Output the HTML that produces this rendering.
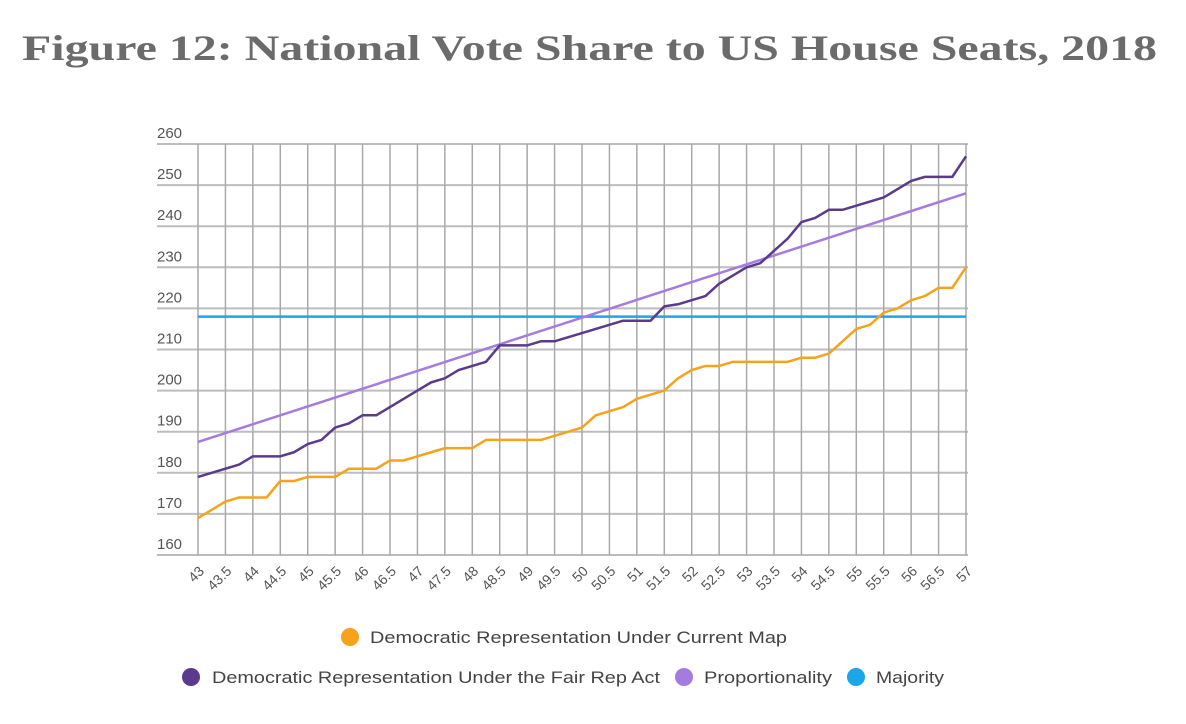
<!DOCTYPE html>
<html><head><meta charset="utf-8"><style>
body{margin:0;background:#fff;width:1186px;height:724px;overflow:hidden}
svg{display:block}
</style></head><body>
<svg width="1186" height="724">
<text x="22" y="60" textLength="1135" lengthAdjust="spacingAndGlyphs" font-family="Liberation Serif, serif" font-weight="bold" font-size="36" fill="#6b6b6b">Figure 12: National Vote Share to US House Seats, 2018</text>
<g id="grid"></g>
<g id="marks"></g>
<g font-family="Liberation Sans, sans-serif" font-size="17" fill="#444">
<g><circle cx="350" cy="637" r="9" fill="#f7a21b"/><text x="370" y="643" textLength="417" lengthAdjust="spacingAndGlyphs">Democratic Representation Under Current Map</text></g>
<g><circle cx="191" cy="677" r="9" fill="#5b3a8e"/><text x="212" y="683" textLength="448" lengthAdjust="spacingAndGlyphs">Democratic Representation Under the Fair Rep Act</text></g>
<g><circle cx="684" cy="677" r="9" fill="#a57be0"/><text x="704" y="683" textLength="128" lengthAdjust="spacingAndGlyphs">Proportionality</text></g>
<g><circle cx="856" cy="677" r="9" fill="#1aa6e8"/><text x="876" y="683" textLength="68" lengthAdjust="spacingAndGlyphs">Majority</text></g>
</g>
</svg>
<script>
const xs=[43,43.25,43.5,43.75,44,44.25,44.5,44.75,45,45.25,45.5,45.75,46,46.25,46.5,46.75,47,47.25,47.5,47.75,48,48.25,48.5,48.75,49,49.25,49.5,49.75,50,50.25,50.5,50.75,51,51.25,51.5,51.75,52,52.25,52.5,52.75,53,53.25,53.5,53.75,54,54.25,54.5,54.75,55,55.25,55.5,55.75,56,56.25,56.5,56.75,57];
const fairRep=[179,180,181,182,184,184,184,185,187,188,191,192,194,194,196,198,200,202,203,205,206,207,211,211,211,212,212,213,214,215,216,217,217,217,220.5,221,222,223,226,228,230,231,234,237,241,242,244,244,245,246,247,249,251,252,252,252,257];
const currentMap=[169,171,173,174,174,174,178,178,179,179,179,181,181,181,183,183,184,185,186,186,186,188,188,188,188,188,189,190,191,194,195,196,198,199,200,203,205,206,206,207,207,207,207,207,208,208,209,212,215,216,219,220,222,223,225,225,230];
const propStart=[43,187.5], propEnd=[57,248];
const majority=218;
const yTicks=[160,170,180,190,200,210,220,230,240,250,260];
const xTicks=[43,43.5,44,44.5,45,45.5,46,46.5,47,47.5,48,48.5,49,49.5,50,50.5,51,51.5,52,52.5,53,53.5,54,54.5,55,55.5,56,56.5,57];
const X=v=>198+(v-43)*(768/14), Y=v=>555-(v-160)*4.11;
const NS="http://www.w3.org/2000/svg";
const grid=document.getElementById('grid'), marks=document.getElementById('marks');
function mk(tag,attrs,parent){const e=document.createElementNS(NS,tag);for(const k in attrs)e.setAttribute(k,attrs[k]);parent.appendChild(e);return e;}
yTicks.forEach(t=>{
 const l=mk('line',{x1:157,x2:968,y1:Y(t),y2:Y(t),stroke:'#bdbdbd','stroke-width':2},grid);
 
 
 const tx=mk('text',{x:157,y:Y(t)-6,'font-family':'Liberation Sans, sans-serif','font-size':15,fill:'#555'},grid);
 tx.textContent=t;
 
 
});
xTicks.forEach(t=>{
 const l=mk('line',{x1:X(t),x2:X(t),y1:Y(260),y2:Y(160),stroke:'#a8a8a8','stroke-width':1.5},grid);
 
 
 const ax=X(t)+7, ay=Y(160)+17;
 const tx=mk('text',{x:ax,y:ay,'text-anchor':'end',transform:`rotate(-45 ${ax} ${ay})`,'font-family':'Liberation Sans, sans-serif','font-size':14,fill:'#555'},grid);
 tx.textContent=t;
 
 
});
const maj=mk('line',{x1:X(43),x2:X(57),y1:Y(majority),y2:Y(majority),stroke:'#1aa6e8','stroke-width':2.5},marks);


const prop=mk('line',{x1:X(propStart[0]),y1:Y(propStart[1]),x2:X(propEnd[0]),y2:Y(propEnd[1]),stroke:'#a57be0','stroke-width':2.5},marks);


function series(vals,color,name){
 const p=mk('polyline',{points:xs.map((x,i)=>X(x)+','+Y(vals[i])).join(' '),fill:'none',stroke:color,'stroke-width':2.5,'stroke-linejoin':'round'},marks);
 
 
}
series(currentMap,'#f7a21b','current-map-line');
series(fairRep,'#5b3a8e','fair-rep-line');
</script>
</body></html>
